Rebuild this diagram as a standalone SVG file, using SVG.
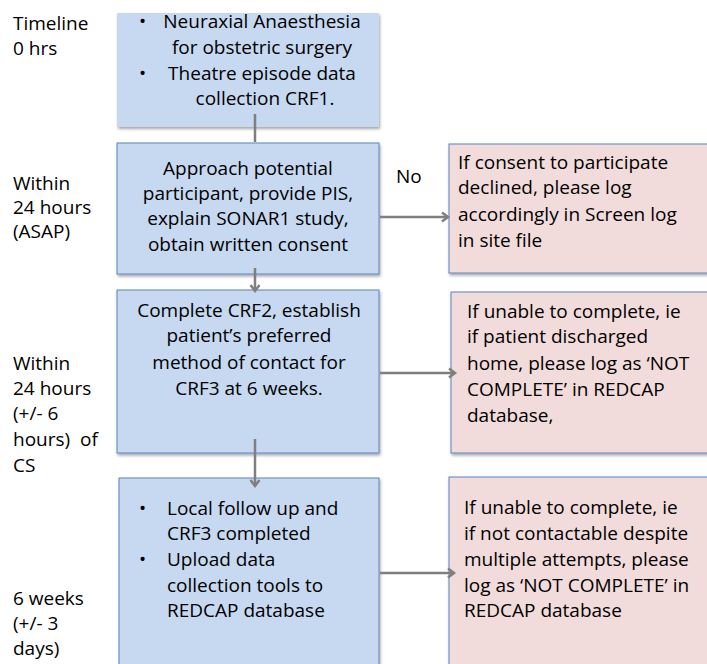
<svg xmlns="http://www.w3.org/2000/svg" width="707" height="664" viewBox="0 0 707 664">
<style>
text{font-family:"Open Sans","Liberation Sans",sans-serif;font-size:19px;fill:#000;white-space:pre}
.c{text-anchor:middle}
.blue{fill:#c6d9f1;stroke:#5b83c0;stroke-width:1}
.pink{fill:#f2dcdb;stroke:#5b83c0;stroke-width:1}
.conn{stroke:#7f7f7f;stroke-width:2.5;fill:none}
</style>
<defs>
<filter id="sh" x="-10%" y="-10%" width="130%" height="130%">
<feDropShadow dx="1" dy="2" stdDeviation="1.5" flood-color="#000" flood-opacity="0.35"/>
</filter>
<marker id="ah" markerUnits="userSpaceOnUse" markerWidth="12" markerHeight="12" refX="9" refY="6" orient="auto">
<path d="M3,1.5 L9,6 L3,10.5" fill="none" stroke="#7f7f7f" stroke-width="2.5"/>
</marker>
</defs>
<rect width="707" height="664" fill="#fff"/>

<g id="timeline-labels">
<text x="13" y="30">Timeline</text>
<text x="13" y="55">0 hrs</text>
<text x="13" y="190">Within</text>
<text x="13" y="214">24 hours</text>
<text x="13" y="238">(ASAP)</text>
<text x="13" y="370">Within</text>
<text x="13" y="395">24 hours</text>
<text x="13" y="420">(+/- 6</text>
<text x="13" y="446" xml:space="preserve">hours)  of</text>
<text x="13" y="472">CS</text>
<text x="13" y="605">6 weeks</text>
<text x="13" y="630">(+/- 3</text>
<text x="13" y="655">days)</text>
</g>

<g id="node-anaesthesia">
<rect x="117" y="13" width="262" height="114" fill="#c6d9f1" filter="url(#sh)"/>
<text x="139" y="28">•</text>
<text x="262" y="28" class="c">Neuraxial Anaesthesia</text>
<text x="262" y="54" class="c">for obstetric surgery</text>
<text x="139" y="80">•</text>
<text x="262" y="80" class="c">Theatre episode data</text>
<text x="265" y="105" class="c">collection CRF1.</text>
</g>

<g id="node-approach">
<rect x="117" y="143" width="262" height="131" class="blue" filter="url(#sh)"/>
<text x="248" y="175" class="c">Approach potential</text>
<text x="248" y="200" class="c">participant, provide PIS,</text>
<text x="248" y="225" class="c">explain SONAR1 study,</text>
<text x="248" y="251" class="c">obtain written consent</text>
</g>

<g id="node-crf2">
<rect x="117" y="290" width="262" height="163" class="blue" filter="url(#sh)"/>
<text x="249" y="317" class="c">Complete CRF2, establish</text>
<text x="249" y="342" class="c">patient’s preferred</text>
<text x="249" y="369" class="c">method of contact for</text>
<text x="249" y="395" class="c">CRF3 at 6 weeks.</text>
</g>

<g id="node-followup">
<rect x="119" y="478" width="260" height="200" class="blue" filter="url(#sh)"/>
<text x="139" y="515">•</text>
<text x="167" y="515">Local follow up and</text>
<text x="167" y="540">CRF3 completed</text>
<text x="139" y="566">•</text>
<text x="167" y="566">Upload data</text>
<text x="167" y="592">collection tools to</text>
<text x="167" y="617">REDCAP database</text>
</g>

<g id="node-declined">
<rect x="449" y="144" width="270" height="129" class="pink" filter="url(#sh)"/>
<text x="458" y="169">If consent to participate</text>
<text x="458" y="194">declined, please log</text>
<text x="458" y="221">accordingly in Screen log</text>
<text x="458" y="247">in site file</text>
</g>

<g id="node-crf2-incomplete">
<rect x="451" y="292" width="268" height="161" class="pink" filter="url(#sh)"/>
<text x="467" y="318">If unable to complete, ie</text>
<text x="467" y="343">if patient discharged</text>
<text x="467" y="370">home, please log as ‘NOT</text>
<text x="467" y="396">COMPLETE’ in REDCAP</text>
<text x="467" y="422">database,</text>
</g>

<g id="node-crf3-incomplete">
<rect x="449" y="477" width="270" height="200" class="pink" filter="url(#sh)"/>
<text x="464" y="514">If unable to complete, ie</text>
<text x="464" y="540">if not contactable despite</text>
<text x="464" y="566">multiple attempts, please</text>
<text x="464" y="592">log as ‘NOT COMPLETE’ in</text>
<text x="464" y="617">REDCAP database</text>
</g>

<g id="connectors">
<line x1="255" y1="114" x2="255" y2="142" class="conn"/>
<line x1="255" y1="268" x2="255" y2="291" class="conn" marker-end="url(#ah)"/>
<line x1="255" y1="439" x2="255" y2="486" class="conn" marker-end="url(#ah)"/>
<line x1="380" y1="217" x2="448" y2="217" class="conn" marker-end="url(#ah)"/>
<line x1="380" y1="373" x2="455" y2="373" class="conn" marker-end="url(#ah)"/>
<line x1="380" y1="573" x2="454" y2="573" class="conn" marker-end="url(#ah)"/>
<text x="396" y="183">No</text>
</g>
</svg>
